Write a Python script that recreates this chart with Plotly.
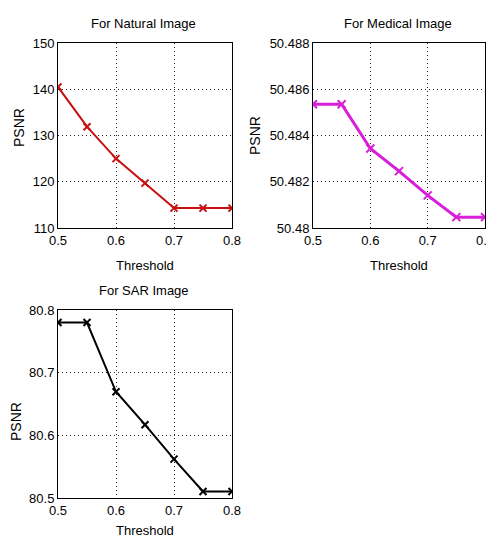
import plotly.graph_objects as go

OFF = 8  # default page body margin
W, H = 495 - OFF, 541 - OFF

threshold = [0.5, 0.55, 0.6, 0.65, 0.7, 0.75, 0.8]
psnr_natural = [140.5, 131.9, 125.0, 119.7, 114.3, 114.3, 114.3]
psnr_medical = [50.48535, 50.48535, 50.48344, 50.48246, 50.48141, 50.48047, 50.48047]
psnr_sar = [80.780, 80.780, 80.6695, 80.617, 80.562, 80.5105, 80.5105]

titles = ["For Natural Image", "For Medical Image", "For SAR Image"]
x_ticks = [0.5, 0.6, 0.7, 0.8]
x_ticktext = ["0.5", "0.6", "0.7", "0.8"]
nat_ticks = [110, 120, 130, 140, 150]
med_ticks = [50.48, 50.482, 50.484, 50.486, 50.488]
med_ticktext = ["50.48", "50.482", "50.484", "50.486", "50.488"]
sar_ticks = [80.5, 80.6, 80.7, 80.8]
sar_ticktext = ["80.5", "80.6", "80.7", "80.8"]

FONT = "Liberation Sans, Arial, sans-serif"

def px_x(p):
    return (p - OFF) / W

def px_y(p):
    return 1 - (p - OFF) / H

fig = go.Figure()
fig.add_trace(go.Scatter(x=threshold, y=psnr_natural, mode="lines+markers",
                         line=dict(color="#C81010", width=2),
                         marker=dict(symbol="x-thin", size=7, line=dict(color="#C81010", width=2)),
                         xaxis="x", yaxis="y"))
fig.add_trace(go.Scatter(x=threshold, y=psnr_medical, mode="lines+markers",
                         line=dict(color="#D81ED8", width=3),
                         marker=dict(symbol="x-thin", size=8, line=dict(color="#D81ED8", width=2)),
                         xaxis="x2", yaxis="y2"))
fig.add_trace(go.Scatter(x=threshold, y=psnr_sar, mode="lines+markers",
                         line=dict(color="#000000", width=2),
                         marker=dict(symbol="x-thin", size=7, line=dict(color="#000000", width=2)),
                         xaxis="x3", yaxis="y3"))

GRID = dict(showgrid=True, gridcolor="#222222", griddash="1px,3px", gridwidth=1,
            showline=True, linecolor="black", linewidth=1, mirror=True,
            ticks="", zeroline=False, automargin=False, ticklabeloverflow="allow",
            tickfont=dict(family=FONT, size=13, color="black"))

def xax(dom, anchor):
    return dict(domain=dom, anchor=anchor, range=[0.5, 0.8], tickvals=x_ticks, ticktext=x_ticktext, **GRID)

def yax(dom, anchor, rng, vals, text):
    return dict(domain=dom, anchor=anchor, range=rng, tickvals=vals, ticktext=text, **GRID)

fig.update_layout(
    width=W, height=H, margin=dict(l=0, r=0, t=0, b=0, pad=0, autoexpand=False),
    paper_bgcolor="white", plot_bgcolor="white", showlegend=False,
    xaxis=xax([px_x(58), px_x(232)], "y"),
    yaxis=yax([px_y(228), px_y(43)], "x", [110, 150], nat_ticks, [str(v) for v in nat_ticks]),
    xaxis2=xax([px_x(313), px_x(485)], "y2"),
    yaxis2=yax([px_y(228), px_y(43)], "x2", [50.48, 50.488], med_ticks, med_ticktext),
    xaxis3=xax([px_x(58), px_x(232)], "y3"),
    yaxis3=yax([px_y(498), px_y(310)], "x3", [80.5, 80.8], sar_ticks, sar_ticktext),
)

def label(text, x, y, size=13, angle=0):
    fig.add_annotation(text=text, x=px_x(x), y=px_y(y), xref="paper", yref="paper",
                       showarrow=False, textangle=angle, xanchor="center", yanchor="middle",
                       font=dict(family=FONT, size=size, color="black"))

label(titles[0], 143, 23)
label(titles[1], 398, 23)
label(titles[2], 144, 290)
label("Threshold", 145, 265)
label("Threshold", 399, 265)
label("Threshold", 145, 530)
label("PSNR", 19, 128, size=14, angle=-90)
label("PSNR", 255, 136, size=14, angle=-90)
label("PSNR", 16, 422, size=14, angle=-90)

fig.write_html("out.html")
